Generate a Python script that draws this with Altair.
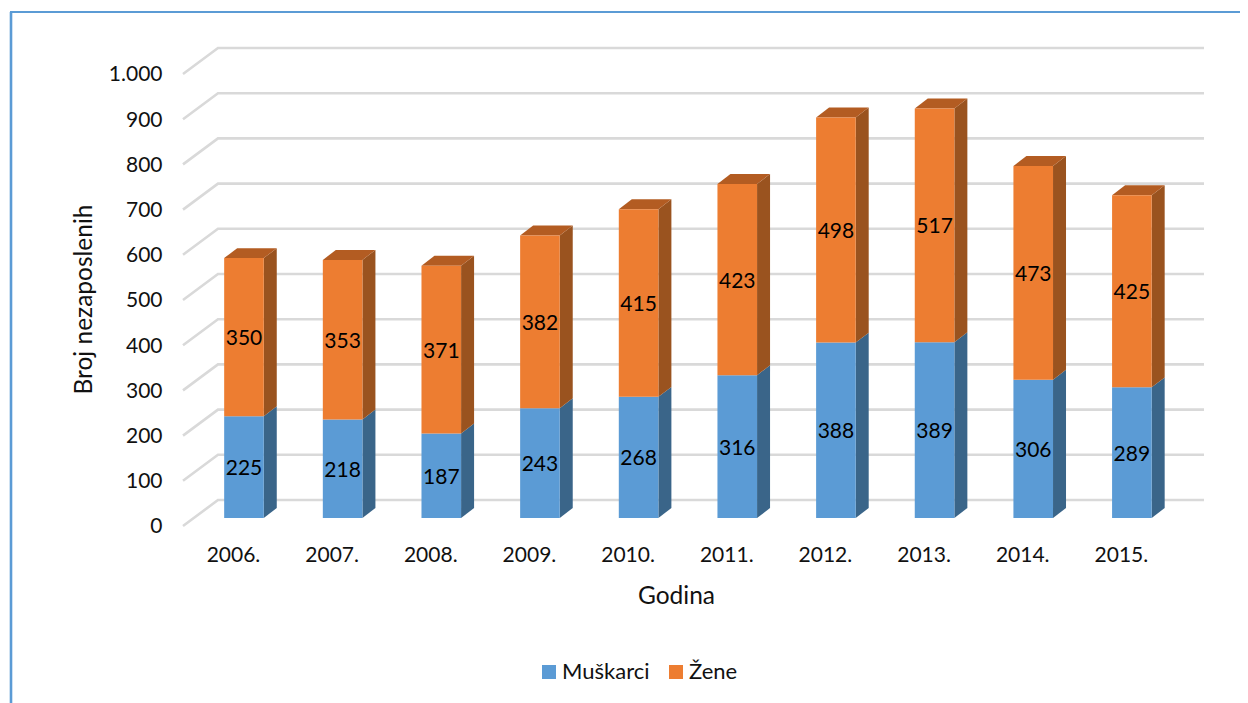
import altair as alt
import pandas as pd

years = [2006, 2007, 2008, 2009, 2010, 2011, 2012, 2013, 2014, 2015]
muskarci = [225, 218, 187, 243, 268, 316, 388, 389, 306, 289]
zene = [350, 353, 371, 382, 415, 423, 498, 517, 473, 425]
levels = [0, 100, 200, 300, 400, 500, 600, 700, 800, 900, 1000]
series = ["Muškarci", "Žene"]

FONT = "Lato"
INK = "#111111"
HALF = 0.2007      # half a bar, in years
DX = 0.1317        # depth of a bar, in years
DY = 22.0          # depth of a bar, in value units
GRID_BACK_X = 2005.7366
GRID_BACK_Y = 39.8
GRID_FRONT_Y = -17.7
X_MIN, X_MAX = 2005.382, 2015.731
Y_MIN, Y_MAX = -26.55, 1057.5

xs = alt.Scale(domain=[X_MIN, X_MAX], nice=False, zero=False)
ys = alt.Scale(domain=[Y_MIN, Y_MAX], nice=False, zero=False)

xa = alt.Axis(
    values=years, labelExpr="format(datum.value,'d')+'.'", labelOffset=-11,
    labelPadding=14, labelFontSize=21, labelFont=FONT, labelColor=INK,
    domain=False, ticks=False, grid=False, title="Godina", titleFont=FONT,
    titleFontSize=24.5, titleFontWeight="normal", titleColor=INK,
    titleX=493, titleY=66, titleBaseline="middle", labelFlush=False, labelOverlap=False)
ya = alt.Axis(
    values=levels,
    labelExpr="datum.value>=1000?replace(format(datum.value,','),',','.'):format(datum.value,'d')",
    labelOffset=9, labelPadding=21, labelFontSize=21, labelFont=FONT,
    labelColor=INK, domain=False, ticks=False, grid=False,
    title="Broj nezaposlenih", titleFont=FONT, titleFontSize=24.5,
    titleFontWeight="normal", titleColor=INK, titleX=-99, titleY=259,
    titleBaseline="middle", labelOverlap=False)

rows = []
for yr, m, z in zip(years, muskarci, zene):
    rows.append(dict(year=yr, serie=series[0], base=0, top=m, val=m))
    rows.append(dict(year=yr, serie=series[1], base=m, top=m + z, val=z))
bars = pd.DataFrame(rows)
bars["left"] = bars.year - HALF
bars["right"] = bars.year + HALF
bars["mid"] = (bars.base + bars.top) / 2

grid_rows = []
for lv in levels:
    grid_rows.append(dict(level=lv, x=X_MIN, y=lv + GRID_FRONT_Y, o=0))
    grid_rows.append(dict(level=lv, x=GRID_BACK_X, y=lv + GRID_BACK_Y, o=1))
    grid_rows.append(dict(level=lv, x=X_MAX, y=lv + GRID_BACK_Y, o=2))
grid_df = pd.DataFrame(grid_rows)

side_rows, top_rows = [], []
for r in rows:
    for k in (0, 1):
        side_rows.append(dict(year=r["year"], serie=r["serie"],
                              x=r["year"] + HALF + k * DX,
                              y=r["base"] + k * DY, y2=r["top"] + k * DY))
for yr, m, z in zip(years, muskarci, zene):
    for k in (0, 1):
        top_rows.append(dict(year=yr, y=m + z + k * DY,
                             x=yr - HALF + k * DX, x2=yr + HALF + k * DX))
side_df = pd.DataFrame(side_rows)
top_df = pd.DataFrame(top_rows)

grid = alt.Chart(grid_df).mark_line(color="#D9D9D9", strokeWidth=2.6).encode(
    x=alt.X("x:Q", scale=xs, axis=xa),
    y=alt.Y("y:Q", scale=ys, axis=ya),
    detail="level:N",
    order="o:Q",
)

sides = []
for s, col in zip(series, ["#3A6589", "#9A531F"]):
    sides.append(
        alt.Chart(side_df[side_df.serie == s]).mark_area(color=col, opacity=1).encode(
            x=alt.X("x:Q", scale=xs, axis=xa),
            y=alt.Y("y:Q", scale=ys, axis=ya),
            y2="y2:Q",
            detail="year:N",
        )
    )

tops = alt.Chart(top_df).mark_area(orient="horizontal", color="#B35C22", opacity=1).encode(
    y=alt.Y("y:Q", scale=ys, axis=ya),
    x=alt.X("x:Q", scale=xs, axis=xa),
    x2="x2:Q",
    detail="year:N",
)

fronts = alt.Chart(bars).mark_rect().encode(
    x=alt.X("left:Q", scale=xs, axis=xa),
    x2="right:Q",
    y=alt.Y("base:Q", scale=ys, axis=ya),
    y2="top:Q",
    color=alt.Color("serie:N", scale=alt.Scale(domain=series, range=["#5B9BD5", "#ED7D31"]),
                    legend=alt.Legend(
                        orient="none", legendX=355, legendY=621, direction="horizontal",
                        title=None, symbolType="square", symbolSize=196, symbolStrokeWidth=0,
                        symbolOpacity=1, labelFont=FONT, labelFontSize=22, labelColor=INK,
                        columnPadding=15, labelOffset=2, columns=2)),
)

labels = alt.Chart(bars).mark_text(font=FONT, fontSize=21, color="#000000", dy=2).encode(
    x=alt.X("year:Q", scale=xs, axis=xa),
    y=alt.Y("mid:Q", scale=ys, axis=ya),
    text="val:Q",
)

dummy = pd.DataFrame({"a": [0]})
frame_top = alt.Chart(dummy).mark_rule(color="#5B9BD5", strokeWidth=2.2).encode(
    x=alt.value(-173), x2=alt.value(1065), y=alt.value(-28))
frame_left = alt.Chart(dummy).mark_rule(color="#5B9BD5", strokeWidth=2.6).encode(
    x=alt.value(-172), y=alt.value(-28), y2=alt.value(663))

chart = alt.layer(grid, *sides, tops, fronts, labels, frame_top, frame_left).properties(
    width=1021, height=490,
    autosize=alt.AutoSizeParams(type="none"),
    padding={"left": 175, "top": 32, "right": 36, "bottom": 173},
    background="white",
).configure_view(stroke=None)

chart.save("out.html", embed_options={"renderer": "svg", "actions": False})
